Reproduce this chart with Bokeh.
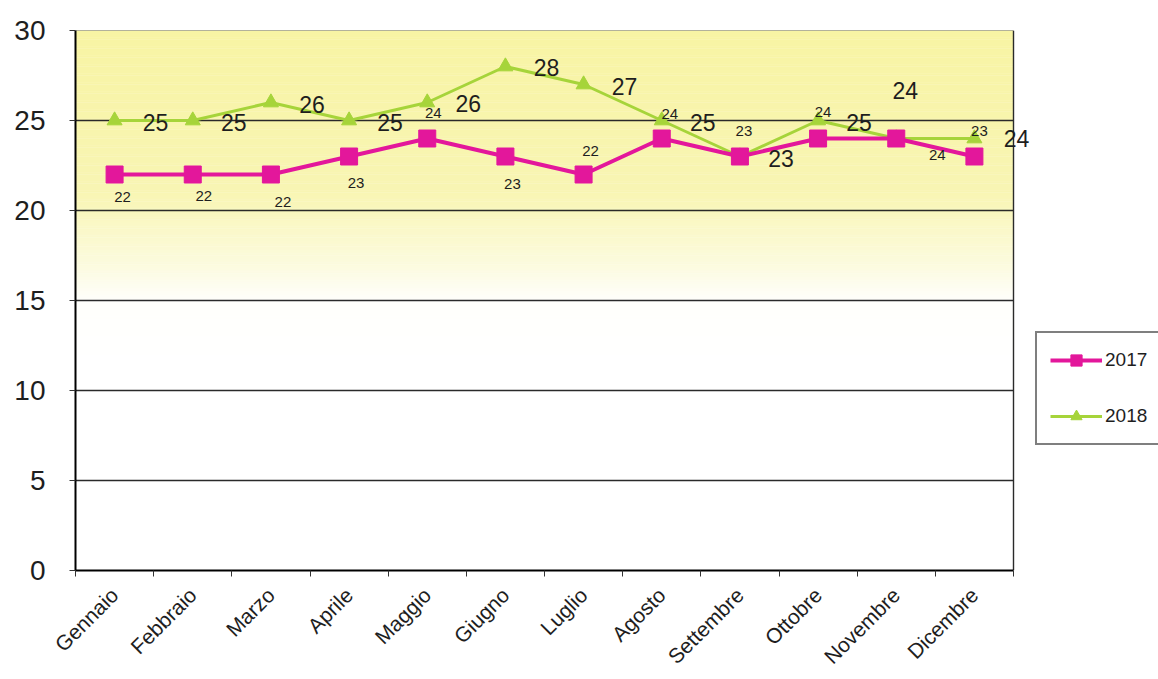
import numpy as np
from bokeh.plotting import figure
from bokeh.models import Range1d, FixedTicker, LinearAxis, Legend, LegendItem, ColumnDataSource
from bokeh.core.properties import value
from bokeh.embed import file_html
from bokeh.resources import INLINE

# --- data -------------------------------------------------------------
months = ["Gennaio", "Febbraio", "Marzo", "Aprile", "Maggio", "Giugno",
          "Luglio", "Agosto", "Settembre", "Ottobre", "Novembre", "Dicembre"]
values_2017 = [22, 22, 22, 23, 24, 23, 22, 24, 23, 24, 24, 23]
values_2018 = [25, 25, 26, 25, 26, 28, 27, 25, 23, 25, 24, 24]
y_ticks = [0, 5, 10, 15, 20, 25, 30]

# --- label placement (screen pixels, y grows downward) ------------------
dx_2017 = [8, 11, 12, 7, 6, 7, 7, 8, 4, 5, 41, 5]
dy_2017 = [22, 21, 27, 26, -26, 27, -24, -25, -26, -27, 16, -26]
dx_2018 = [41, 41, 41, 41, 41, 41, 41, 41, 41, 41, 9, 42]
dy_2018 = [2, 2, 2, 2, 1, 1, 2, 2, 2, 2, -48, 0]

FONT = value("Liberation Sans")
PINK = "#E3179B"
GREEN = "#A6D43A"
TEXT = "#1e1e1e"
GRID = "#2a2a2a"

# layout: the plotting area is 938 px wide; the frame runs on to the
# right edge so the legend and the last value label stay visible
W, H = 1158, 679
LEFT, TOP, BOTTOM = 75, 30, 109
AREA_W = 938
n_cat = len(months)
frame_w = W - LEFT
x_end = n_cat * frame_w / AREA_W

xpos = [i + 0.5 for i in range(n_cat)]

p = figure(width=W, height=H, output_backend="svg", toolbar_location=None,
           x_range=Range1d(0, x_end), y_range=Range1d(0, 30),
           x_axis_type=None, y_axis_type=None,
           min_border_left=LEFT, min_border_right=0,
           min_border_top=TOP, min_border_bottom=BOTTOM)
p.background_fill_color = "white"
p.border_fill_color = "white"
p.outline_line_color = None
p.xgrid.grid_line_color = None
p.ygrid.grid_line_color = None

# yellow backdrop fading to white towards the lower part of the chart
edges = np.linspace(12, 30, 181)
stop_y = [12, 15, 17, 21, 30]
stop_r = [255, 255, 252, 249, 248]
stop_g = [255, 255, 251, 246, 244]
stop_b = [255, 252, 222, 180, 164]
mid = (edges[:-1] + edges[1:]) / 2
band_colors = ["#%02x%02x%02x" % (int(np.interp(m, stop_y, stop_r)),
                                  int(np.interp(m, stop_y, stop_g)),
                                  int(np.interp(m, stop_y, stop_b))) for m in mid]
p.quad(left=0, right=n_cat, bottom=edges[:-1], top=edges[1:] + 0.02,
       fill_color=band_colors, line_color=None, level="image")

# horizontal grid lines and the border of the plotting area
grid_y = y_ticks[1:-1]
p.segment(x0=[0] * len(grid_y), x1=[n_cat] * len(grid_y), y0=grid_y, y1=grid_y,
          line_color=GRID, line_width=1.3, level="underlay")
p.segment(x0=[0], x1=[n_cat], y0=[y_ticks[-1]], y1=[y_ticks[-1]],
          line_color="#6a6a5a", line_width=1.2, level="underlay")
p.segment(x0=[n_cat], x1=[n_cat], y0=[y_ticks[0]], y1=[y_ticks[-1]],
          line_color="#2a2a2a", line_width=1.4, level="underlay")

# y axis
yax = LinearAxis(ticker=FixedTicker(ticks=y_ticks))
yax.axis_line_color = "black"
yax.axis_line_width = 2
yax.major_tick_out = 6
yax.major_tick_in = 0
yax.major_tick_line_color = "#333333"
yax.minor_tick_line_color = None
yax.major_label_text_font = "Liberation Sans"
yax.major_label_text_font_size = "28px"
yax.major_label_text_color = TEXT
yax.major_label_standoff = 24
p.add_layout(yax, "left")

# x axis: month names at the centres, small ticks between months
xax = LinearAxis(ticker=FixedTicker(ticks=xpos, minor_ticks=list(range(n_cat + 1))),
                 bounds=(0, n_cat))
xax.major_label_overrides = {x: m for x, m in zip(xpos, months)}
xax.axis_line_color = "black"
xax.axis_line_width = 2
xax.major_tick_line_color = None
xax.minor_tick_line_color = "#333333"
xax.minor_tick_out = 6
xax.minor_tick_in = 0
xax.major_label_orientation = np.pi / 4
xax.major_label_text_font = "Liberation Sans"
xax.major_label_text_font_size = "21px"
xax.major_label_text_color = TEXT
xax.major_label_standoff = 15
p.add_layout(xax, "below")

src = ColumnDataSource(dict(x=xpos, v17=values_2017, v18=values_2018,
                            t17=[str(v) for v in values_2017],
                            t18=[str(v) for v in values_2018],
                            dx17=dx_2017, dy17=dy_2017, dx18=dx_2018, dy18=dy_2018))

l18 = p.line("x", "v18", source=src, line_color=GREEN, line_width=3)
m18 = p.scatter("x", "v18", source=src, marker="triangle", size=15,
                fill_color=GREEN, line_color=GREEN)
l17 = p.line("x", "v17", source=src, line_color=PINK, line_width=4)
m17 = p.scatter("x", "v17", source=src, marker="square", size=17,
                fill_color=PINK, line_color=PINK)

p.text("x", "v17", text="t17", source=src, x_offset="dx17", y_offset="dy17",
       text_font=FONT, text_font_size="15px", text_color=TEXT,
       text_align="center", text_baseline="middle")
p.text("x", "v18", text="t18", source=src, x_offset="dx18", y_offset="dy18",
       text_font=FONT, text_font_size="23px", text_color=TEXT,
       text_align="center", text_baseline="middle")

legend = Legend(items=[LegendItem(label="2017", renderers=[l17, m17]),
                       LegendItem(label="2018", renderers=[l18, m18])],
                location=(960, 125))
legend.label_text_font = "Liberation Sans"
legend.label_text_font_size = "19px"
legend.label_text_color = TEXT
legend.glyph_width = 52
legend.glyph_height = 28
legend.label_height = 28
legend.spacing = 28
legend.padding = 13
legend.label_standoff = 3
legend.border_line_color = "black"
legend.border_line_width = 2
legend.background_fill_color = "white"
legend.background_fill_alpha = 1
p.add_layout(legend, "center")

open("out.html", "w").write(file_html(p, INLINE))
